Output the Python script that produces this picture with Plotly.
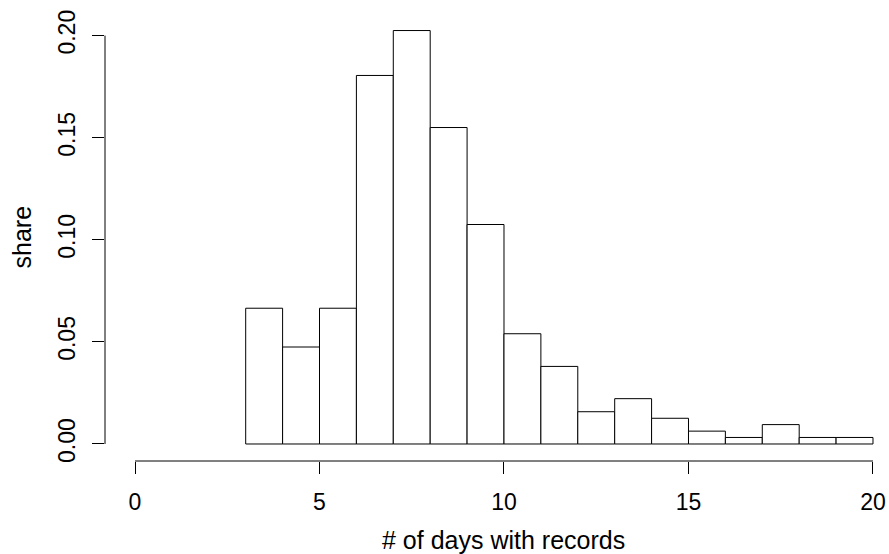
import plotly.graph_objects as go

# Histogram data: bin left edges (width 1) and share values
bin_left = [3, 4, 5, 6, 7, 8, 9, 10, 11, 12, 13, 14, 15, 16, 17, 18, 19]
share = [0.0665, 0.0475, 0.0665, 0.1805, 0.2025, 0.155, 0.1075, 0.054, 0.038,
         0.0158, 0.0222, 0.0126, 0.0063, 0.0032, 0.0095, 0.0032, 0.0032]
x_ticks = [0, 5, 10, 15, 20]
y_ticks = [0.00, 0.05, 0.10, 0.15, 0.20]
y_tick_text = ["0.00", "0.05", "0.10", "0.15", "0.20"]
x_title = "# of days with records"
y_title = "share"

FONT = "Liberation Sans, Arial, Helvetica, sans-serif"
FS = 23
FS_TITLE = 25

mids = [b + 0.5 for b in bin_left]

fig = go.Figure()
fig.add_trace(go.Bar(
    x=mids, y=share, width=[1] * len(mids),
    marker=dict(color="white", line=dict(color="black", width=1)),
    showlegend=False, hoverinfo="skip",
))

fig.update_layout(
    width=889, height=554,
    margin=dict(l=105, r=0, t=14, b=93),
    paper_bgcolor="white", plot_bgcolor="white",
    font=dict(family=FONT, size=FS, color="black"),
    bargap=0,
    xaxis=dict(
        range=[-0.813, 20.434], showgrid=False, zeroline=False, showline=False,
        tickmode="array", tickvals=x_ticks, ticktext=[str(v) for v in x_ticks],
        ticks="outside", ticklen=12, tickwidth=1, tickcolor="black",
        ticklabelstandoff=8,
    ),
    yaxis=dict(
        range=[-0.00833, 0.2106], showgrid=False, zeroline=False, showline=False,
        tickmode="array", tickvals=y_ticks, ticktext=y_tick_text,
        ticks="outside", ticklen=12, tickwidth=1, tickcolor="black",
        tickangle=-90, ticklabelstandoff=8,
    ),
)

# R-style axis lines spanning only first to last tick
fig.add_shape(type="line", xref="x", yref="paper", x0=x_ticks[0], x1=x_ticks[-1],
              y0=0, y1=0, line=dict(color="black", width=1))
fig.add_shape(type="line", xref="paper", yref="y", x0=0, x1=0,
              y0=y_ticks[0], y1=y_ticks[-1], line=dict(color="black", width=1))

fig.add_annotation(text=x_title, xref="x", yref="paper", x=10, y=0,
                   yshift=-79, xanchor="center", yanchor="middle",
                   showarrow=False, font=dict(family=FONT, size=FS_TITLE))
fig.add_annotation(text=y_title, xref="paper", yref="paper", x=0, y=0.5,
                   xshift=-84, xanchor="center", yanchor="middle", textangle=-90,
                   showarrow=False, font=dict(family=FONT, size=FS_TITLE))

fig.write_html("out.html",
               config={"displayModeBar": False, "staticPlot": True},
               post_script="document.body.style.margin='0';document.body.style.padding='0';")
